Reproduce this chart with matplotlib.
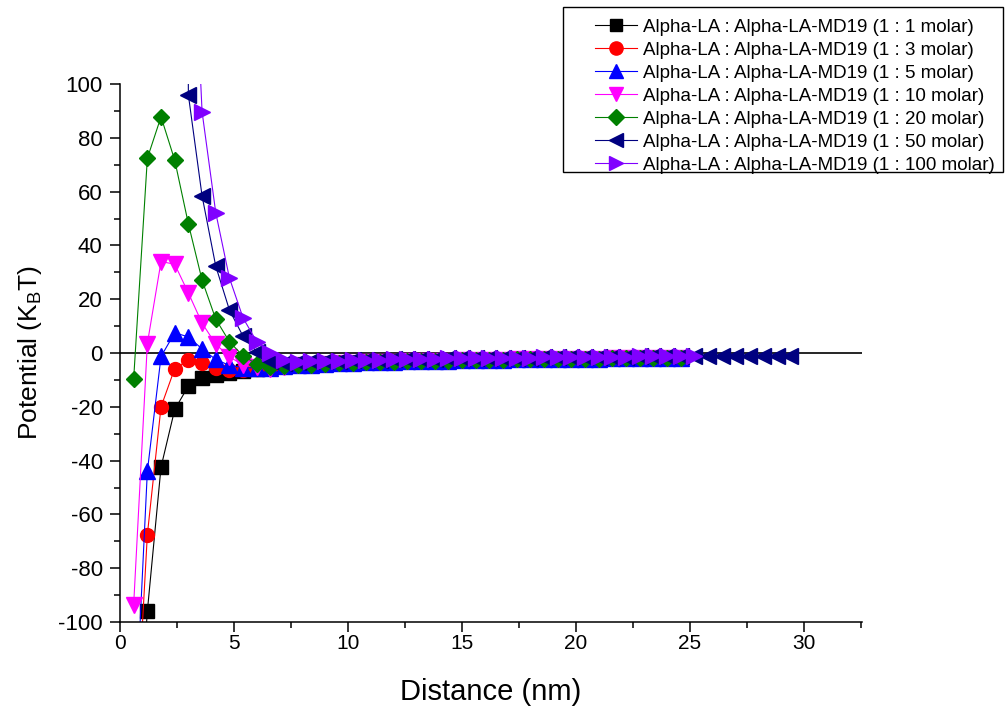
import numpy as np
import matplotlib.pyplot as plt
from matplotlib.patches import Rectangle
from matplotlib.ticker import MultipleLocator

plt.rcParams['font.family'] = ['Liberation Sans', 'DejaVu Sans']
plt.rcParams['mathtext.default'] = 'regular'
plt.rcParams['axes.unicode_minus'] = False

# sampling grid of the curves (nm)
distance = np.round(0.6 * np.arange(1, 50), 1)

# long-range tails, x = 7.8 ... (all curves overlap there)
tail_low = [-4.6, -4.3, -4.1, -3.9, -3.7, -3.5, -3.4, -3.2, -3.1, -3.0,
            -2.9, -2.8, -2.7, -2.6, -2.5, -2.5, -2.4, -2.3, -2.3, -2.2,
            -2.2, -2.1, -2.1, -2.0, -2.0, -1.9, -1.9, -1.9, -1.8]
tail_high = [-3.3, -3.1, -2.9, -2.8, -2.7, -2.6, -2.5, -2.4, -2.3, -2.2,
             -2.1, -2.0, -2.0, -1.9, -1.8, -1.8, -1.7, -1.7, -1.6, -1.6,
             -1.5, -1.5, -1.4, -1.4, -1.4, -1.3, -1.3, -1.3, -1.2, -1.2]
tail_far = [-1.2, -1.2, -1.2, -1.1, -1.1, -1.1, -1.1]

# short-range part, x = 0.6 ... 7.2 (navy from 2.4, violet from 3.0)
head_1 = [-170, -96, -42.4, -21, -12.3, -9.3, -8.2, -7.4, -6.7, -6.0, -5.5, -5.0]
head_3 = [-160, -67.5, -20, -5.8, -2.6, -3.8, -5.5, -6.2, -6.3, -6.0, -5.6, -5.1]
head_5 = [-150, -44, -1.3, 7.5, 6.0, 1.5, -2.4, -4.6, -5.4, -5.6, -5.4, -5.0]
head_10 = [-93.5, 3.5, 34, 33, 22.3, 11.1, 3.3, -1.4, -4.5, -5.3, -5.8, -5.2]
head_20 = [-9.5, 72.4, 87.8, 71.7, 48, 27.1, 12.6, 4.2, -1.1, -4.1, -5.1, -5.0]
head_50 = [1000, 95.9, 58.4, 32.3, 16, 6.2, 0.5, -2.8, -3.6]
head_100 = [200, 89.7, 52.2, 27.9, 13, 4.2, 0.0, -2.6]

labels = ['Alpha-LA : Alpha-LA-MD19 (1 : 1 molar)',
          'Alpha-LA : Alpha-LA-MD19 (1 : 3 molar)',
          'Alpha-LA : Alpha-LA-MD19 (1 : 5 molar)',
          'Alpha-LA : Alpha-LA-MD19 (1 : 10 molar)',
          'Alpha-LA : Alpha-LA-MD19 (1 : 20 molar)',
          'Alpha-LA : Alpha-LA-MD19 (1 : 50 molar)',
          'Alpha-LA : Alpha-LA-MD19 (1 : 100 molar)']
values = [head_1 + tail_low, head_3 + tail_low, head_5 + tail_low,
          head_10 + tail_low, head_20 + tail_low,
          head_50 + tail_high + tail_far, head_100 + tail_high]
starts = [0, 0, 0, 0, 0, 3, 4]
colors = ['#000000', '#FF0000', '#0000FF', '#FF00FF', '#008000', '#000080', '#8000FF']
markers = ['s', 'o', '^', 'v', 'D', '<', '>']
sizes = [9.5, 10, 11, 11, 8.5, 11, 11]

fig = plt.figure(figsize=(10.06, 7.09), dpi=100)
ax = fig.add_axes([120/1006, 1-622/709, 742/1006, 538/709])

ax.axhline(0, color='black', lw=1.2, zorder=1)
for lab, val, s, c, m, ms in zip(labels, values, starts, colors, markers, sizes):
    ax.plot(distance[s:s+len(val)], val, color=c, marker=m, ms=ms, lw=0.8,
            mec=c, label=lab, zorder=2)

ax.set_xlim(0, 32.55)
ax.set_ylim(-100, 100)
ax.xaxis.set_major_locator(MultipleLocator(5))
ax.xaxis.set_minor_locator(MultipleLocator(2.5))
ax.yaxis.set_major_locator(MultipleLocator(20))
ax.yaxis.set_minor_locator(MultipleLocator(10))
for side in ['top', 'right']:
    ax.spines[side].set_visible(False)
for side in ['left', 'bottom']:
    ax.spines[side].set_linewidth(1.1)
ax.tick_params(which='major', direction='out', length=7.5, width=1.1)
ax.tick_params(axis='y', which='major', pad=5, labelsize=16)
ax.tick_params(axis='x', which='major', pad=1, labelsize=15)
ax.tick_params(which='minor', direction='out', length=4, width=1.1)

ax.set_xlabel('Distance (nm)', fontsize=21, labelpad=18)
ax.set_ylabel('Potential (K$_B$T)', fontsize=19, labelpad=10)

ax.legend(loc='upper left', bbox_to_anchor=(586/1006, 1-9.5/709), bbox_transform=fig.transFigure,
          frameon=False, borderpad=0, fontsize=13.5, handlelength=2.24, handletextpad=0.32,
          labelspacing=0.31, markerscale=0.95)
fig.patches.append(Rectangle((563/1006, 1-172/709), 440/1006, 165/709, transform=fig.transFigure,
                             fill=False, edgecolor='black', lw=1))

fig.savefig('out.png', dpi=100)
